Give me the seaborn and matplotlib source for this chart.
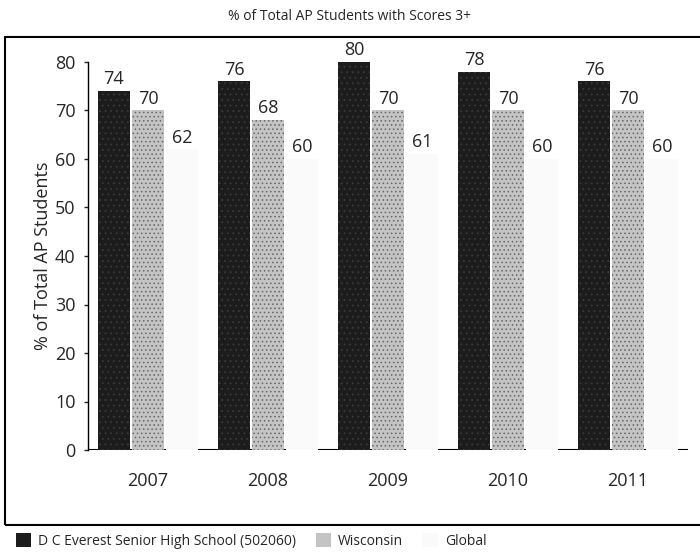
import pandas as pd
import numpy as np
import matplotlib.pyplot as plt
import seaborn as sns
from matplotlib.patches import Patch, Rectangle

# -----------------------------
# Data
# -----------------------------
years = ['2007', '2008', '2009', '2010', '2011']
groups = ['D C Everest Senior High School (502060)', 'Wisconsin', 'Global']
school = [74, 76, 80, 78, 76]
wisconsin = [70, 68, 70, 70, 70]
global_pct = [62, 60, 61, 60, 60]

df = pd.DataFrame({
    "Year": years * 3,
    "Group": [groups[0]] * 5 + [groups[1]] * 5 + [groups[2]] * 5,
    "Pct": school + wisconsin + global_pct,
})

colors = ['#1c1c1c', '#c4c4c4', '#fafafa']
hatches = ['...', '....', None]

sns.set_style("white")
plt.rcParams['font.family'] = ['Open Sans', 'DejaVu Sans']
plt.rcParams['hatch.linewidth'] = 0.6

fig = plt.figure(figsize=(7, 5.58), dpi=100)
ax = fig.add_axes([88 / 700, 1 - 450 / 558, 600 / 700, 388 / 558])

sns.barplot(data=df, x="Year", y="Pct", hue="Group", hue_order=groups,
            palette=colors, width=0.85, gap=0.04, ax=ax, legend=False, zorder=3,
            saturation=1, errorbar=None)

# speckled texture on the first two series
for cont, hatch, ec in zip(ax.containers, hatches, ['#3a3a3a', '#666666', None]):
    for bar in cont:
        if hatch:
            bar.set_hatch(hatch)
            bar.set_edgecolor(ec)
            bar.set_linewidth(0)
        else:
            bar.set_edgecolor('none')
    ax.bar_label(cont, padding=2, fontsize=13)

ax.axhline(0, color='black', lw=1.5, zorder=1)
ax.set_ylim(0, 80)
ax.set_xlim(-0.5, 4.5)
ax.set_yticks(range(0, 81, 10))
ax.tick_params(axis='y', labelsize=13, left=True, length=3, width=1, pad=6)
ax.tick_params(axis='x', labelsize=13, bottom=False, pad=12)
for s in ['top', 'right', 'bottom']:
    ax.spines[s].set_visible(False)
ax.spines['left'].set_color('black')
ax.spines['left'].set_linewidth(1)
ax.set_xlabel("")
ax.set_ylabel("% of Total AP Students", fontsize=13, labelpad=2)

fig.text(0.5, 1 - 16 / 558, "% of Total AP Students with Scores 3+",
         ha='center', va='center', fontsize=10)

# outer frame around the chart
fig.patches.append(Rectangle((5 / 700, 1 - 525 / 558), 700 / 700, 488 / 558,
                             transform=fig.transFigure, fill=False,
                             edgecolor='black', lw=1.5))

handles = [Patch(facecolor=c, edgecolor='none', hatch=h, label=g)
           for c, h, g in zip(colors, hatches, groups)]
fig.legend(handles=handles, loc='center left', bbox_to_anchor=(0.005, 1 - 541 / 558),
           ncol=3, frameon=False, fontsize=10, handlelength=1.1, handleheight=1.1,
           handletextpad=0.5, columnspacing=1.4)

fig.savefig("out.png", dpi=100)
